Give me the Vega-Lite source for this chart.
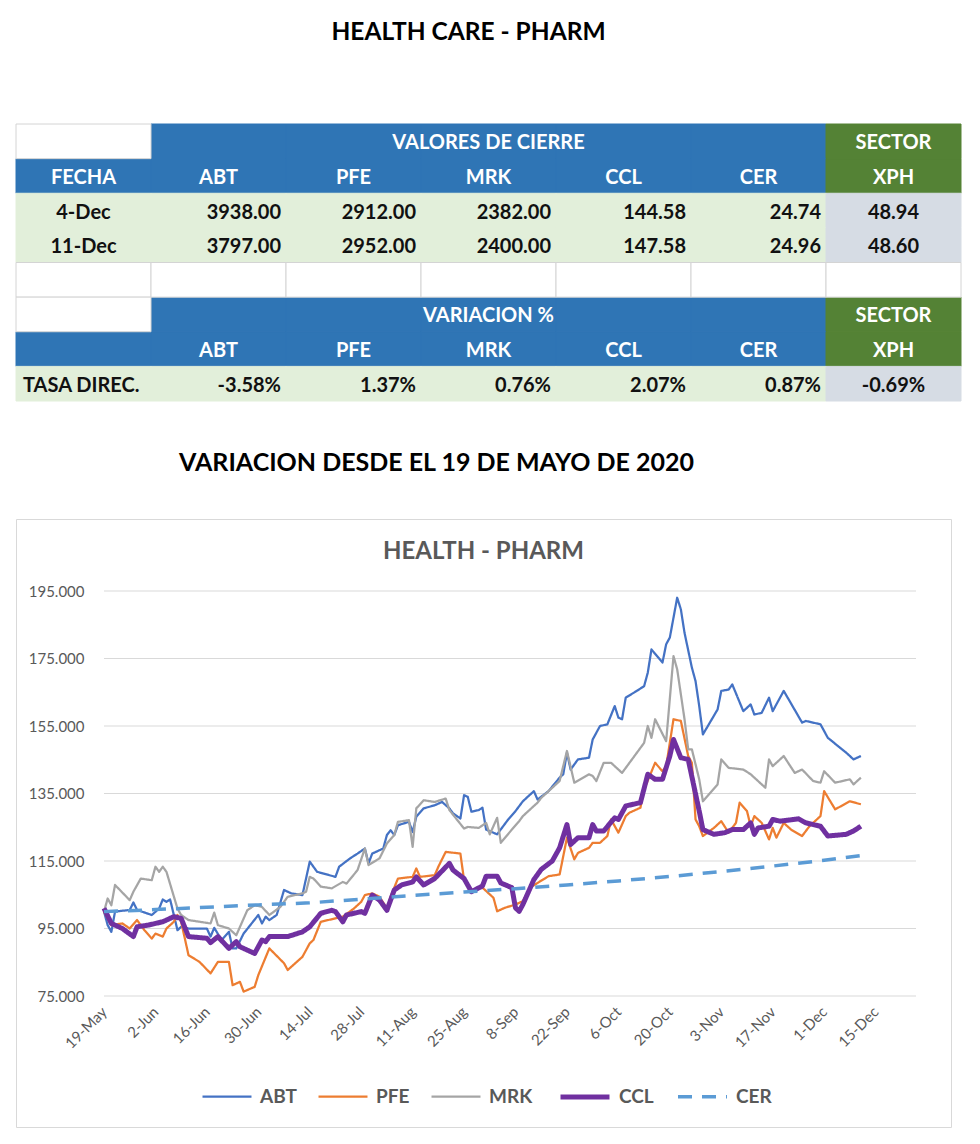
{
  "$schema": "https://vega.github.io/schema/vega-lite/v6.json",
  "background": "white",
  "padding": {"left": 15, "top": 20, "right": 5, "bottom": 5},
  "config": {"font": "Lato", "view": {"stroke": null}},
  "title": {"text": "HEALTH CARE - PHARM", "anchor": "middle", "fontSize": 24.5, "font": "Lato", "fontWeight": "bold", "color": "#000000", "offset": 78, "dx": -20},
  "spacing": 42,
  "datasets": {
    "celdas": [
      {"fila": "r0", "col": "FECHA", "tipo": "blanco"}, {"fila": "r0", "col": "ABT", "tipo": "azul"}, {"fila": "r0", "col": "PFE", "tipo": "azul"}, {"fila": "r0", "col": "MRK", "tipo": "azul"}, {"fila": "r0", "col": "CCL", "tipo": "azul"}, {"fila": "r0", "col": "CER", "tipo": "azul"}, {"fila": "r0", "col": "XPH", "tipo": "verde"},
      {"fila": "r1", "col": "FECHA", "tipo": "azul"}, {"fila": "r1", "col": "ABT", "tipo": "azul"}, {"fila": "r1", "col": "PFE", "tipo": "azul"}, {"fila": "r1", "col": "MRK", "tipo": "azul"}, {"fila": "r1", "col": "CCL", "tipo": "azul"}, {"fila": "r1", "col": "CER", "tipo": "azul"}, {"fila": "r1", "col": "XPH", "tipo": "verde"},
      {"fila": "r2", "col": "FECHA", "tipo": "datos"}, {"fila": "r2", "col": "ABT", "tipo": "datos"}, {"fila": "r2", "col": "PFE", "tipo": "datos"}, {"fila": "r2", "col": "MRK", "tipo": "datos"}, {"fila": "r2", "col": "CCL", "tipo": "datos"}, {"fila": "r2", "col": "CER", "tipo": "datos"}, {"fila": "r2", "col": "XPH", "tipo": "sector"},
      {"fila": "r3", "col": "FECHA", "tipo": "datos"}, {"fila": "r3", "col": "ABT", "tipo": "datos"}, {"fila": "r3", "col": "PFE", "tipo": "datos"}, {"fila": "r3", "col": "MRK", "tipo": "datos"}, {"fila": "r3", "col": "CCL", "tipo": "datos"}, {"fila": "r3", "col": "CER", "tipo": "datos"}, {"fila": "r3", "col": "XPH", "tipo": "sector"},
      {"fila": "r4", "col": "FECHA", "tipo": "blanco"}, {"fila": "r4", "col": "ABT", "tipo": "blanco"}, {"fila": "r4", "col": "PFE", "tipo": "blanco"}, {"fila": "r4", "col": "MRK", "tipo": "blanco"}, {"fila": "r4", "col": "CCL", "tipo": "blanco"}, {"fila": "r4", "col": "CER", "tipo": "blanco"}, {"fila": "r4", "col": "XPH", "tipo": "blanco"},
      {"fila": "r5", "col": "FECHA", "tipo": "blanco"}, {"fila": "r5", "col": "ABT", "tipo": "azul"}, {"fila": "r5", "col": "PFE", "tipo": "azul"}, {"fila": "r5", "col": "MRK", "tipo": "azul"}, {"fila": "r5", "col": "CCL", "tipo": "azul"}, {"fila": "r5", "col": "CER", "tipo": "azul"}, {"fila": "r5", "col": "XPH", "tipo": "verde"},
      {"fila": "r6", "col": "FECHA", "tipo": "azul"}, {"fila": "r6", "col": "ABT", "tipo": "azul"}, {"fila": "r6", "col": "PFE", "tipo": "azul"}, {"fila": "r6", "col": "MRK", "tipo": "azul"}, {"fila": "r6", "col": "CCL", "tipo": "azul"}, {"fila": "r6", "col": "CER", "tipo": "azul"}, {"fila": "r6", "col": "XPH", "tipo": "verde"},
      {"fila": "r7", "col": "FECHA", "tipo": "datos"}, {"fila": "r7", "col": "ABT", "tipo": "datos"}, {"fila": "r7", "col": "PFE", "tipo": "datos"}, {"fila": "r7", "col": "MRK", "tipo": "datos"}, {"fila": "r7", "col": "CCL", "tipo": "datos"}, {"fila": "r7", "col": "CER", "tipo": "datos"}, {"fila": "r7", "col": "XPH", "tipo": "sector"}
    ],
    "textos": [
      {"fila": "r0", "col": "MRK", "t": "VALORES DE CIERRE"}, {"fila": "r0", "col": "XPH", "t": "SECTOR"},
      {"fila": "r1", "col": "FECHA", "t": "FECHA"}, {"fila": "r1", "col": "ABT", "t": "ABT"}, {"fila": "r1", "col": "PFE", "t": "PFE"}, {"fila": "r1", "col": "MRK", "t": "MRK"}, {"fila": "r1", "col": "CCL", "t": "CCL"}, {"fila": "r1", "col": "CER", "t": "CER"}, {"fila": "r1", "col": "XPH", "t": "XPH"},
      {"fila": "r2", "col": "FECHA", "t": "4-Dec"}, {"fila": "r2", "col": "ABT", "t": "3938.00"}, {"fila": "r2", "col": "PFE", "t": "2912.00"}, {"fila": "r2", "col": "MRK", "t": "2382.00"}, {"fila": "r2", "col": "CCL", "t": "144.58"}, {"fila": "r2", "col": "CER", "t": "24.74"}, {"fila": "r2", "col": "XPH", "t": "48.94"},
      {"fila": "r3", "col": "FECHA", "t": "11-Dec"}, {"fila": "r3", "col": "ABT", "t": "3797.00"}, {"fila": "r3", "col": "PFE", "t": "2952.00"}, {"fila": "r3", "col": "MRK", "t": "2400.00"}, {"fila": "r3", "col": "CCL", "t": "147.58"}, {"fila": "r3", "col": "CER", "t": "24.96"}, {"fila": "r3", "col": "XPH", "t": "48.60"},
      {"fila": "r5", "col": "MRK", "t": "VARIACION %"}, {"fila": "r5", "col": "XPH", "t": "SECTOR"},
      {"fila": "r6", "col": "ABT", "t": "ABT"}, {"fila": "r6", "col": "PFE", "t": "PFE"}, {"fila": "r6", "col": "MRK", "t": "MRK"}, {"fila": "r6", "col": "CCL", "t": "CCL"}, {"fila": "r6", "col": "CER", "t": "CER"}, {"fila": "r6", "col": "XPH", "t": "XPH"},
      {"fila": "r7", "col": "FECHA", "t": "TASA DIREC."}, {"fila": "r7", "col": "ABT", "t": "-3.58%"}, {"fila": "r7", "col": "PFE", "t": "1.37%"}, {"fila": "r7", "col": "MRK", "t": "0.76%"}, {"fila": "r7", "col": "CCL", "t": "2.07%"}, {"fila": "r7", "col": "CER", "t": "0.87%"}, {"fila": "r7", "col": "XPH", "t": "-0.69%"}
    ],
    "grid": [{"g": 75}, {"g": 95}, {"g": 115}, {"g": 135}, {"g": 155}, {"g": 175}, {"g": 195}],
    "series": [
      {"d":"2020-05-19","s":"ABT","v":100},{"d":"2020-05-20","s":"ABT","v":96},{"d":"2020-05-21","s":"ABT","v":94},{"d":"2020-05-22","s":"ABT","v":100},{"d":"2020-05-26","s":"ABT","v":100.5},{"d":"2020-05-27","s":"ABT","v":102.7},{"d":"2020-05-28","s":"ABT","v":100.5},{"d":"2020-06-01","s":"ABT","v":99},{"d":"2020-06-03","s":"ABT","v":100.9},{"d":"2020-06-04","s":"ABT","v":103.6},{"d":"2020-06-05","s":"ABT","v":102.9},{"d":"2020-06-06","s":"ABT","v":103.6},{"d":"2020-06-08","s":"ABT","v":94.5},{"d":"2020-06-09","s":"ABT","v":95.5},{"d":"2020-06-11","s":"ABT","v":95},{"d":"2020-06-16","s":"ABT","v":95},{"d":"2020-06-17","s":"ABT","v":92.6},{"d":"2020-06-18","s":"ABT","v":95.2},{"d":"2020-06-20","s":"ABT","v":91.6},{"d":"2020-06-22","s":"ABT","v":94},{"d":"2020-06-23","s":"ABT","v":89.1},{"d":"2020-06-24","s":"ABT","v":89.1},{"d":"2020-06-26","s":"ABT","v":93.5},{"d":"2020-06-30","s":"ABT","v":99},{"d":"2020-07-01","s":"ABT","v":96.5},{"d":"2020-07-02","s":"ABT","v":98.5},{"d":"2020-07-03","s":"ABT","v":97.5},{"d":"2020-07-05","s":"ABT","v":99},{"d":"2020-07-07","s":"ABT","v":106.4},{"d":"2020-07-09","s":"ABT","v":105.4},{"d":"2020-07-12","s":"ABT","v":104.9},{"d":"2020-07-14","s":"ABT","v":114.8},{"d":"2020-07-16","s":"ABT","v":111.8},{"d":"2020-07-21","s":"ABT","v":110.3},{"d":"2020-07-22","s":"ABT","v":113.3},{"d":"2020-07-25","s":"ABT","v":115.8},{"d":"2020-07-27","s":"ABT","v":117.2},{"d":"2020-07-29","s":"ABT","v":118.7},{"d":"2020-07-30","s":"ABT","v":114.3},{"d":"2020-07-31","s":"ABT","v":117.2},{"d":"2020-08-03","s":"ABT","v":118.7},{"d":"2020-08-04","s":"ABT","v":122.7},{"d":"2020-08-05","s":"ABT","v":124.1},{"d":"2020-08-06","s":"ABT","v":122.7},{"d":"2020-08-07","s":"ABT","v":125.6},{"d":"2020-08-10","s":"ABT","v":126.6},{"d":"2020-08-11","s":"ABT","v":123.6},{"d":"2020-08-12","s":"ABT","v":128.1},{"d":"2020-08-14","s":"ABT","v":130.6},{"d":"2020-08-17","s":"ABT","v":131.5},{"d":"2020-08-19","s":"ABT","v":132.5},{"d":"2020-08-21","s":"ABT","v":130.6},{"d":"2020-08-22","s":"ABT","v":129.1},{"d":"2020-08-24","s":"ABT","v":127.6},{"d":"2020-08-25","s":"ABT","v":134.5},{"d":"2020-08-26","s":"ABT","v":134},{"d":"2020-08-27","s":"ABT","v":129.6},{"d":"2020-08-29","s":"ABT","v":130.1},{"d":"2020-08-30","s":"ABT","v":130.8},{"d":"2020-08-31","s":"ABT","v":124.3},{"d":"2020-09-03","s":"ABT","v":122.9},{"d":"2020-09-06","s":"ABT","v":127.3},{"d":"2020-09-08","s":"ABT","v":129.8},{"d":"2020-09-10","s":"ABT","v":132.7},{"d":"2020-09-13","s":"ABT","v":135.7},{"d":"2020-09-14","s":"ABT","v":133.2},{"d":"2020-09-17","s":"ABT","v":135.7},{"d":"2020-09-20","s":"ABT","v":139.7},{"d":"2020-09-21","s":"ABT","v":140.7},{"d":"2020-09-22","s":"ABT","v":147.1},{"d":"2020-09-23","s":"ABT","v":142.1},{"d":"2020-09-25","s":"ABT","v":145.1},{"d":"2020-09-28","s":"ABT","v":145.6},{"d":"2020-09-29","s":"ABT","v":151},{"d":"2020-10-01","s":"ABT","v":155},{"d":"2020-10-03","s":"ABT","v":155.5},{"d":"2020-10-05","s":"ABT","v":160.9},{"d":"2020-10-06","s":"ABT","v":157.5},{"d":"2020-10-07","s":"ABT","v":157},{"d":"2020-10-08","s":"ABT","v":163.4},{"d":"2020-10-11","s":"ABT","v":165.4},{"d":"2020-10-13","s":"ABT","v":166.8},{"d":"2020-10-14","s":"ABT","v":170.8},{"d":"2020-10-15","s":"ABT","v":177.7},{"d":"2020-10-18","s":"ABT","v":173.8},{"d":"2020-10-19","s":"ABT","v":179.2},{"d":"2020-10-20","s":"ABT","v":181.2},{"d":"2020-10-22","s":"ABT","v":193},{"d":"2020-10-23","s":"ABT","v":189.6},{"d":"2020-10-24","s":"ABT","v":182.6},{"d":"2020-10-26","s":"ABT","v":172.3},{"d":"2020-10-27","s":"ABT","v":168.3},{"d":"2020-10-28","s":"ABT","v":160.9},{"d":"2020-10-29","s":"ABT","v":152.5},{"d":"2020-11-02","s":"ABT","v":159.9},{"d":"2020-11-03","s":"ABT","v":165.4},{"d":"2020-11-05","s":"ABT","v":165.8},{"d":"2020-11-06","s":"ABT","v":167.3},{"d":"2020-11-09","s":"ABT","v":159.4},{"d":"2020-11-11","s":"ABT","v":161.4},{"d":"2020-11-12","s":"ABT","v":158.4},{"d":"2020-11-14","s":"ABT","v":158.9},{"d":"2020-11-16","s":"ABT","v":163.4},{"d":"2020-11-17","s":"ABT","v":159.4},{"d":"2020-11-20","s":"ABT","v":165.4},{"d":"2020-11-25","s":"ABT","v":156},{"d":"2020-11-26","s":"ABT","v":156.5},{"d":"2020-11-30","s":"ABT","v":155.5},{"d":"2020-12-02","s":"ABT","v":151.5},{"d":"2020-12-07","s":"ABT","v":147.1},{"d":"2020-12-09","s":"ABT","v":145.1},{"d":"2020-12-11","s":"ABT","v":146.1},
      {"d":"2020-05-19","s":"PFE","v":100},{"d":"2020-05-21","s":"PFE","v":96},{"d":"2020-05-24","s":"PFE","v":96.5},{"d":"2020-05-26","s":"PFE","v":95},{"d":"2020-05-28","s":"PFE","v":97.5},{"d":"2020-05-30","s":"PFE","v":94.5},{"d":"2020-06-01","s":"PFE","v":92},{"d":"2020-06-02","s":"PFE","v":93.5},{"d":"2020-06-04","s":"PFE","v":92.6},{"d":"2020-06-05","s":"PFE","v":95},{"d":"2020-06-07","s":"PFE","v":97},{"d":"2020-06-08","s":"PFE","v":99},{"d":"2020-06-09","s":"PFE","v":97},{"d":"2020-06-11","s":"PFE","v":87.1},{"d":"2020-06-14","s":"PFE","v":85.1},{"d":"2020-06-17","s":"PFE","v":81.7},{"d":"2020-06-19","s":"PFE","v":85.1},{"d":"2020-06-22","s":"PFE","v":85.1},{"d":"2020-06-23","s":"PFE","v":78.2},{"d":"2020-06-25","s":"PFE","v":79.2},{"d":"2020-06-26","s":"PFE","v":76.3},{"d":"2020-06-29","s":"PFE","v":77.7},{"d":"2020-06-30","s":"PFE","v":81.2},{"d":"2020-07-03","s":"PFE","v":89.1},{"d":"2020-07-07","s":"PFE","v":84.7},{"d":"2020-07-08","s":"PFE","v":82.7},{"d":"2020-07-12","s":"PFE","v":86.6},{"d":"2020-07-14","s":"PFE","v":90.6},{"d":"2020-07-15","s":"PFE","v":91.6},{"d":"2020-07-17","s":"PFE","v":97},{"d":"2020-07-21","s":"PFE","v":98},{"d":"2020-07-23","s":"PFE","v":98.5},{"d":"2020-07-26","s":"PFE","v":100.9},{"d":"2020-07-28","s":"PFE","v":102.9},{"d":"2020-07-29","s":"PFE","v":104.9},{"d":"2020-07-31","s":"PFE","v":105.4},{"d":"2020-08-02","s":"PFE","v":104.4},{"d":"2020-08-04","s":"PFE","v":100.9},{"d":"2020-08-05","s":"PFE","v":104.4},{"d":"2020-08-07","s":"PFE","v":109.8},{"d":"2020-08-11","s":"PFE","v":110.3},{"d":"2020-08-12","s":"PFE","v":112.8},{"d":"2020-08-13","s":"PFE","v":110.3},{"d":"2020-08-17","s":"PFE","v":110.8},{"d":"2020-08-18","s":"PFE","v":113.3},{"d":"2020-08-20","s":"PFE","v":117.7},{"d":"2020-08-24","s":"PFE","v":117.2},{"d":"2020-08-25","s":"PFE","v":109.3},{"d":"2020-08-27","s":"PFE","v":106.4},{"d":"2020-08-30","s":"PFE","v":107.1},{"d":"2020-08-31","s":"PFE","v":106.1},{"d":"2020-09-02","s":"PFE","v":104.1},{"d":"2020-09-03","s":"PFE","v":100.1},{"d":"2020-09-05","s":"PFE","v":101.1},{"d":"2020-09-08","s":"PFE","v":102.1},{"d":"2020-09-10","s":"PFE","v":103.1},{"d":"2020-09-12","s":"PFE","v":107.1},{"d":"2020-09-14","s":"PFE","v":108.5},{"d":"2020-09-17","s":"PFE","v":110.5},{"d":"2020-09-20","s":"PFE","v":111},{"d":"2020-09-22","s":"PFE","v":121.9},{"d":"2020-09-24","s":"PFE","v":115.5},{"d":"2020-09-25","s":"PFE","v":117.4},{"d":"2020-09-28","s":"PFE","v":118.9},{"d":"2020-09-29","s":"PFE","v":120.4},{"d":"2020-10-01","s":"PFE","v":120.4},{"d":"2020-10-03","s":"PFE","v":122.4},{"d":"2020-10-04","s":"PFE","v":127.3},{"d":"2020-10-06","s":"PFE","v":123.4},{"d":"2020-10-08","s":"PFE","v":128.3},{"d":"2020-10-09","s":"PFE","v":129.3},{"d":"2020-10-12","s":"PFE","v":130.8},{"d":"2020-10-13","s":"PFE","v":136.2},{"d":"2020-10-16","s":"PFE","v":144.1},{"d":"2020-10-18","s":"PFE","v":141.6},{"d":"2020-10-19","s":"PFE","v":143.1},{"d":"2020-10-21","s":"PFE","v":157},{"d":"2020-10-23","s":"PFE","v":156.5},{"d":"2020-10-25","s":"PFE","v":146.1},{"d":"2020-10-26","s":"PFE","v":144.1},{"d":"2020-10-27","s":"PFE","v":127.3},{"d":"2020-10-28","s":"PFE","v":125.3},{"d":"2020-10-29","s":"PFE","v":122.4},{"d":"2020-11-01","s":"PFE","v":124.8},{"d":"2020-11-03","s":"PFE","v":126.8},{"d":"2020-11-05","s":"PFE","v":123.4},{"d":"2020-11-07","s":"PFE","v":126.3},{"d":"2020-11-08","s":"PFE","v":132.3},{"d":"2020-11-10","s":"PFE","v":129.8},{"d":"2020-11-11","s":"PFE","v":125.3},{"d":"2020-11-12","s":"PFE","v":128.3},{"d":"2020-11-14","s":"PFE","v":126.3},{"d":"2020-11-16","s":"PFE","v":121.4},{"d":"2020-11-17","s":"PFE","v":124.8},{"d":"2020-11-18","s":"PFE","v":121.9},{"d":"2020-11-20","s":"PFE","v":126.3},{"d":"2020-11-22","s":"PFE","v":124.3},{"d":"2020-11-25","s":"PFE","v":122.4},{"d":"2020-11-27","s":"PFE","v":125.3},{"d":"2020-11-30","s":"PFE","v":128.3},{"d":"2020-12-01","s":"PFE","v":135.7},{"d":"2020-12-04","s":"PFE","v":130.3},{"d":"2020-12-08","s":"PFE","v":132.7},{"d":"2020-12-11","s":"PFE","v":131.8},
      {"d":"2020-05-19","s":"MRK","v":100},{"d":"2020-05-20","s":"MRK","v":103.9},{"d":"2020-05-21","s":"MRK","v":101.9},{"d":"2020-05-22","s":"MRK","v":107.9},{"d":"2020-05-26","s":"MRK","v":103.4},{"d":"2020-05-27","s":"MRK","v":105.9},{"d":"2020-05-29","s":"MRK","v":109.8},{"d":"2020-06-01","s":"MRK","v":109.3},{"d":"2020-06-02","s":"MRK","v":113.3},{"d":"2020-06-03","s":"MRK","v":111.8},{"d":"2020-06-04","s":"MRK","v":113.3},{"d":"2020-06-05","s":"MRK","v":111.8},{"d":"2020-06-08","s":"MRK","v":100.9},{"d":"2020-06-09","s":"MRK","v":99},{"d":"2020-06-11","s":"MRK","v":97.5},{"d":"2020-06-14","s":"MRK","v":97},{"d":"2020-06-17","s":"MRK","v":96.5},{"d":"2020-06-18","s":"MRK","v":99.7},{"d":"2020-06-19","s":"MRK","v":96},{"d":"2020-06-22","s":"MRK","v":95},{"d":"2020-06-24","s":"MRK","v":93},{"d":"2020-06-27","s":"MRK","v":100.4},{"d":"2020-06-29","s":"MRK","v":101.9},{"d":"2020-07-01","s":"MRK","v":101.4},{"d":"2020-07-03","s":"MRK","v":99},{"d":"2020-07-06","s":"MRK","v":101.4},{"d":"2020-07-08","s":"MRK","v":104.4},{"d":"2020-07-12","s":"MRK","v":105.4},{"d":"2020-07-13","s":"MRK","v":105.9},{"d":"2020-07-14","s":"MRK","v":110.3},{"d":"2020-07-15","s":"MRK","v":109.8},{"d":"2020-07-17","s":"MRK","v":107.4},{"d":"2020-07-20","s":"MRK","v":106.9},{"d":"2020-07-23","s":"MRK","v":108.8},{"d":"2020-07-24","s":"MRK","v":108.3},{"d":"2020-07-27","s":"MRK","v":112.3},{"d":"2020-07-29","s":"MRK","v":118.7},{"d":"2020-07-30","s":"MRK","v":113.8},{"d":"2020-08-02","s":"MRK","v":115.8},{"d":"2020-08-04","s":"MRK","v":120.2},{"d":"2020-08-06","s":"MRK","v":122.7},{"d":"2020-08-07","s":"MRK","v":126.6},{"d":"2020-08-10","s":"MRK","v":127.1},{"d":"2020-08-11","s":"MRK","v":119.2},{"d":"2020-08-12","s":"MRK","v":130.6},{"d":"2020-08-14","s":"MRK","v":133},{"d":"2020-08-17","s":"MRK","v":132.5},{"d":"2020-08-20","s":"MRK","v":133.5},{"d":"2020-08-21","s":"MRK","v":130.1},{"d":"2020-08-25","s":"MRK","v":124.6},{"d":"2020-08-26","s":"MRK","v":125.1},{"d":"2020-08-29","s":"MRK","v":124.8},{"d":"2020-08-31","s":"MRK","v":126.3},{"d":"2020-09-01","s":"MRK","v":122.9},{"d":"2020-09-03","s":"MRK","v":127.8},{"d":"2020-09-04","s":"MRK","v":120.4},{"d":"2020-09-07","s":"MRK","v":124.3},{"d":"2020-09-09","s":"MRK","v":126.8},{"d":"2020-09-10","s":"MRK","v":128.3},{"d":"2020-09-14","s":"MRK","v":132.3},{"d":"2020-09-15","s":"MRK","v":133.7},{"d":"2020-09-20","s":"MRK","v":138.7},{"d":"2020-09-22","s":"MRK","v":147.6},{"d":"2020-09-24","s":"MRK","v":138.2},{"d":"2020-09-28","s":"MRK","v":140.7},{"d":"2020-09-29","s":"MRK","v":140.2},{"d":"2020-09-30","s":"MRK","v":138.7},{"d":"2020-10-02","s":"MRK","v":144.1},{"d":"2020-10-04","s":"MRK","v":144.1},{"d":"2020-10-07","s":"MRK","v":141.1},{"d":"2020-10-13","s":"MRK","v":150},{"d":"2020-10-14","s":"MRK","v":155},{"d":"2020-10-15","s":"MRK","v":151.5},{"d":"2020-10-16","s":"MRK","v":157},{"d":"2020-10-19","s":"MRK","v":150.5},{"d":"2020-10-21","s":"MRK","v":175.7},{"d":"2020-10-22","s":"MRK","v":171.8},{"d":"2020-10-24","s":"MRK","v":157},{"d":"2020-10-25","s":"MRK","v":148.1},{"d":"2020-10-26","s":"MRK","v":148.1},{"d":"2020-10-28","s":"MRK","v":139.2},{"d":"2020-10-29","s":"MRK","v":132.7},{"d":"2020-11-02","s":"MRK","v":137.7},{"d":"2020-11-03","s":"MRK","v":145.1},{"d":"2020-11-05","s":"MRK","v":142.6},{"d":"2020-11-09","s":"MRK","v":142.1},{"d":"2020-11-11","s":"MRK","v":140.7},{"d":"2020-11-15","s":"MRK","v":136.7},{"d":"2020-11-16","s":"MRK","v":145.1},{"d":"2020-11-17","s":"MRK","v":143.1},{"d":"2020-11-20","s":"MRK","v":146.1},{"d":"2020-11-23","s":"MRK","v":141.1},{"d":"2020-11-25","s":"MRK","v":142.1},{"d":"2020-11-28","s":"MRK","v":138.7},{"d":"2020-11-30","s":"MRK","v":138.2},{"d":"2020-12-01","s":"MRK","v":141.6},{"d":"2020-12-04","s":"MRK","v":138.2},{"d":"2020-12-08","s":"MRK","v":139.2},{"d":"2020-12-09","s":"MRK","v":137.7},{"d":"2020-12-11","s":"MRK","v":139.7},
      {"d":"2020-05-19","s":"CCL","v":101},{"d":"2020-05-21","s":"CCL","v":96.5},{"d":"2020-05-24","s":"CCL","v":95},{"d":"2020-05-27","s":"CCL","v":92.6},{"d":"2020-05-28","s":"CCL","v":95.5},{"d":"2020-05-31","s":"CCL","v":96},{"d":"2020-06-04","s":"CCL","v":97},{"d":"2020-06-07","s":"CCL","v":98.5},{"d":"2020-06-09","s":"CCL","v":98},{"d":"2020-06-11","s":"CCL","v":92.6},{"d":"2020-06-16","s":"CCL","v":92.1},{"d":"2020-06-17","s":"CCL","v":90.8},{"d":"2020-06-19","s":"CCL","v":92.6},{"d":"2020-06-22","s":"CCL","v":89.1},{"d":"2020-06-24","s":"CCL","v":91.1},{"d":"2020-06-25","s":"CCL","v":89.6},{"d":"2020-06-29","s":"CCL","v":87.6},{"d":"2020-07-01","s":"CCL","v":91.6},{"d":"2020-07-02","s":"CCL","v":91.1},{"d":"2020-07-03","s":"CCL","v":92.6},{"d":"2020-07-08","s":"CCL","v":92.6},{"d":"2020-07-12","s":"CCL","v":94},{"d":"2020-07-14","s":"CCL","v":95.5},{"d":"2020-07-17","s":"CCL","v":99.5},{"d":"2020-07-20","s":"CCL","v":100.4},{"d":"2020-07-21","s":"CCL","v":100},{"d":"2020-07-23","s":"CCL","v":97},{"d":"2020-07-24","s":"CCL","v":99},{"d":"2020-07-28","s":"CCL","v":100},{"d":"2020-07-29","s":"CCL","v":99.5},{"d":"2020-07-31","s":"CCL","v":104.9},{"d":"2020-08-02","s":"CCL","v":103.4},{"d":"2020-08-04","s":"CCL","v":100.4},{"d":"2020-08-06","s":"CCL","v":106.4},{"d":"2020-08-08","s":"CCL","v":107.9},{"d":"2020-08-11","s":"CCL","v":108.8},{"d":"2020-08-12","s":"CCL","v":110.3},{"d":"2020-08-14","s":"CCL","v":107.9},{"d":"2020-08-17","s":"CCL","v":109.8},{"d":"2020-08-21","s":"CCL","v":114.3},{"d":"2020-08-22","s":"CCL","v":112.3},{"d":"2020-08-25","s":"CCL","v":109.8},{"d":"2020-08-27","s":"CCL","v":105.9},{"d":"2020-08-30","s":"CCL","v":107.6},{"d":"2020-08-31","s":"CCL","v":110.5},{"d":"2020-09-03","s":"CCL","v":110.5},{"d":"2020-09-04","s":"CCL","v":108.5},{"d":"2020-09-07","s":"CCL","v":107.1},{"d":"2020-09-08","s":"CCL","v":101.1},{"d":"2020-09-09","s":"CCL","v":100.1},{"d":"2020-09-10","s":"CCL","v":102.1},{"d":"2020-09-13","s":"CCL","v":109.5},{"d":"2020-09-15","s":"CCL","v":112.5},{"d":"2020-09-18","s":"CCL","v":115},{"d":"2020-09-20","s":"CCL","v":118.9},{"d":"2020-09-22","s":"CCL","v":125.8},{"d":"2020-09-23","s":"CCL","v":119.9},{"d":"2020-09-25","s":"CCL","v":121.9},{"d":"2020-09-28","s":"CCL","v":121.9},{"d":"2020-09-29","s":"CCL","v":125.8},{"d":"2020-09-30","s":"CCL","v":123.9},{"d":"2020-10-02","s":"CCL","v":123.9},{"d":"2020-10-05","s":"CCL","v":127.8},{"d":"2020-10-06","s":"CCL","v":127.3},{"d":"2020-10-08","s":"CCL","v":131.3},{"d":"2020-10-12","s":"CCL","v":132.3},{"d":"2020-10-14","s":"CCL","v":140.7},{"d":"2020-10-16","s":"CCL","v":139.2},{"d":"2020-10-18","s":"CCL","v":139.2},{"d":"2020-10-20","s":"CCL","v":146.1},{"d":"2020-10-21","s":"CCL","v":151},{"d":"2020-10-23","s":"CCL","v":145.6},{"d":"2020-10-25","s":"CCL","v":145.1},{"d":"2020-10-28","s":"CCL","v":129.8},{"d":"2020-10-29","s":"CCL","v":124.3},{"d":"2020-11-01","s":"CCL","v":122.9},{"d":"2020-11-04","s":"CCL","v":123.4},{"d":"2020-11-06","s":"CCL","v":124.3},{"d":"2020-11-09","s":"CCL","v":124.3},{"d":"2020-11-11","s":"CCL","v":126.3},{"d":"2020-11-12","s":"CCL","v":122.9},{"d":"2020-11-13","s":"CCL","v":124.8},{"d":"2020-11-16","s":"CCL","v":125.3},{"d":"2020-11-17","s":"CCL","v":127.3},{"d":"2020-11-19","s":"CCL","v":126.8},{"d":"2020-11-24","s":"CCL","v":127.5},{"d":"2020-11-26","s":"CCL","v":126.3},{"d":"2020-11-30","s":"CCL","v":125.3},{"d":"2020-12-02","s":"CCL","v":122.4},{"d":"2020-12-07","s":"CCL","v":122.9},{"d":"2020-12-09","s":"CCL","v":123.9},{"d":"2020-12-11","s":"CCL","v":125.3},
      {"d":"2020-05-19","s":"CER","v":100},{"d":"2020-06-02","s":"CER","v":100.6},{"d":"2020-06-16","s":"CER","v":101.3},{"d":"2020-06-30","s":"CER","v":102},{"d":"2020-07-14","s":"CER","v":102.6},{"d":"2020-07-28","s":"CER","v":103.7},{"d":"2020-08-11","s":"CER","v":104.8},{"d":"2020-08-25","s":"CER","v":105.8},{"d":"2020-09-08","s":"CER","v":106.8},{"d":"2020-09-22","s":"CER","v":107.9},{"d":"2020-10-06","s":"CER","v":109.1},{"d":"2020-10-20","s":"CER","v":110.4},{"d":"2020-11-03","s":"CER","v":111.9},{"d":"2020-11-17","s":"CER","v":113.5},{"d":"2020-12-01","s":"CER","v":115.2},{"d":"2020-12-11","s":"CER","v":116.6}
    ]
  },
  "vconcat": [
    {
      "width": 945,
      "height": 277,
      "title": {"text": "VARIACION DESDE EL 19 DE MAYO DE 2020", "orient": "bottom", "anchor": "middle", "offset": 49, "dx": -52, "fontSize": 25, "font": "Lato", "fontWeight": "bold", "color": "#000000"},
      "data": {"name": "celdas"},
      "layer": [
        {
          "transform": [{"filter": "datum.tipo != 'blanco'"}],
          "mark": {"type": "rect", "strokeWidth": 1},
          "encoding": {
            "x": {"field": "col", "type": "nominal", "scale": {"type": "band", "domain": ["FECHA","ABT","PFE","MRK","CCL","CER","XPH"], "paddingInner": 0, "paddingOuter": 0}, "axis": null},
            "y": {"field": "fila", "type": "nominal", "scale": {"type": "band", "domain": ["r0","r1","r2","r3","r4","r5","r6","r7"], "paddingInner": 0, "paddingOuter": 0}, "axis": null},
            "fill": {"field": "tipo", "type": "nominal", "scale": {"domain": ["azul","verde","datos","sector"], "range": ["#2F75B5","#548235","#E2EFDA","#D6DCE4"]}, "legend": null},
            "stroke": {"field": "tipo", "type": "nominal", "scale": {"domain": ["azul","verde","datos","sector"], "range": ["#2F75B5","#548235","#E2EFDA","#D6DCE4"]}, "legend": null}
          }
        },
        {
          "transform": [{"filter": "datum.tipo == 'blanco'"}],
          "mark": {"type": "rect", "fill": "#FFFFFF", "stroke": "#D4D4D4", "strokeWidth": 1},
          "encoding": {
            "x": {"field": "col", "type": "nominal", "axis": null},
            "y": {"field": "fila", "type": "nominal", "axis": null}
          }
        },
        {
          "data": {"name": "textos"},
          "transform": [{"filter": "!((indexof(['r2','r3','r7'], datum.fila) >= 0 && datum.col != 'FECHA' && datum.col != 'XPH') || (datum.fila == 'r7' && datum.col == 'FECHA'))"}],
          "mark": {"type": "text", "font": "Lato", "fontWeight": "bold", "fontSize": 20, "align": "center", "baseline": "middle", "dy": 2},
          "encoding": {
            "x": {"field": "col", "type": "nominal", "axis": null},
            "y": {"field": "fila", "type": "nominal", "axis": null},
            "text": {"field": "t"},
            "color": {"condition": {"test": "indexof(['r0','r1','r5','r6'], datum.fila) >= 0", "value": "#FFFFFF"}, "value": "#111111"}
          }
        },
        {
          "data": {"name": "textos"},
          "transform": [{"filter": "indexof(['r2','r3','r7'], datum.fila) >= 0 && datum.col != 'FECHA' && datum.col != 'XPH'"}],
          "mark": {"type": "text", "font": "Lato", "fontWeight": "bold", "fontSize": 20, "align": "right", "baseline": "middle", "dx": -5, "dy": 2, "color": "#111111"},
          "encoding": {
            "x": {"field": "col", "type": "nominal", "bandPosition": 1, "axis": null},
            "y": {"field": "fila", "type": "nominal", "axis": null},
            "text": {"field": "t"}
          }
        },
        {
          "data": {"name": "textos"},
          "transform": [{"filter": "datum.fila == 'r7' && datum.col == 'FECHA'"}],
          "mark": {"type": "text", "font": "Lato", "fontWeight": "bold", "fontSize": 20, "align": "left", "baseline": "middle", "dx": 7, "dy": 2, "color": "#111111"},
          "encoding": {
            "x": {"field": "col", "type": "nominal", "bandPosition": 0, "axis": null},
            "y": {"field": "fila", "type": "nominal", "axis": null},
            "text": {"field": "t"}
          }
        }
      ]
    },
    {
      "width": 935,
      "height": 608,
      "view": {"stroke": "#D9D9D9", "strokeWidth": 1},
      "title": {"text": "HEALTH - PHARM", "anchor": "middle", "offset": -45, "fontSize": 24, "font": "Lato", "fontWeight": "bold", "color": "#595959"},
      "layer": [
        {
          "data": {"name": "grid"},
          "mark": {"type": "rule", "color": "#D9D9D9", "strokeWidth": 1},
          "encoding": {
            "x": {
              "datum": {"year": 2020, "month": 5, "date": 19, "utc": true}, "type": "temporal",
              "scale": {"type": "utc", "domain": [{"year": 2020, "month": 5, "date": 19, "utc": true}, {"year": 2020, "month": 12, "date": 26, "utc": true}], "range": [88, 900], "nice": false},
              "axis": {
                "title": null, "orient": "bottom", "offset": -131, "domain": false, "ticks": false, "grid": false,
                "values": [
                  {"year": 2020, "month": 5, "date": 19, "utc": true}, {"year": 2020, "month": 6, "date": 2, "utc": true}, {"year": 2020, "month": 6, "date": 16, "utc": true}, {"year": 2020, "month": 6, "date": 30, "utc": true},
                  {"year": 2020, "month": 7, "date": 14, "utc": true}, {"year": 2020, "month": 7, "date": 28, "utc": true}, {"year": 2020, "month": 8, "date": 11, "utc": true}, {"year": 2020, "month": 8, "date": 25, "utc": true},
                  {"year": 2020, "month": 9, "date": 8, "utc": true}, {"year": 2020, "month": 9, "date": 22, "utc": true}, {"year": 2020, "month": 10, "date": 6, "utc": true}, {"year": 2020, "month": 10, "date": 20, "utc": true},
                  {"year": 2020, "month": 11, "date": 3, "utc": true}, {"year": 2020, "month": 11, "date": 17, "utc": true}, {"year": 2020, "month": 12, "date": 1, "utc": true}, {"year": 2020, "month": 12, "date": 15, "utc": true}
                ],
                "labelExpr": "utcFormat(datum.value, '%-d-%b')",
                "labelAngle": -45, "labelAlign": "right", "labelBaseline": "middle", "labelPadding": 13,
                "labelFont": "Lato", "labelFontSize": 15, "labelColor": "#595959", "labelOverlap": false, "labelFlush": false, "labelBound": false
              }
            },
            "x2": {"datum": {"year": 2020, "month": 12, "date": 26, "utc": true}},
            "y": {
              "field": "g", "type": "quantitative",
              "scale": {"domain": [75, 195], "range": [477, 72], "nice": false, "zero": false},
              "axis": {
                "title": null, "orient": "left", "offset": -72, "domain": false, "ticks": false, "grid": false,
                "values": [75, 95, 115, 135, 155, 175, 195], "format": ".3f",
                "labelPadding": 4, "labelFont": "Lato", "labelFontSize": 15, "labelColor": "#595959", "labelFlush": false, "labelOverlap": false
              }
            }
          }
        },
        {
          "data": {"name": "series"},
          "mark": {"type": "line", "strokeJoin": "round"},
          "encoding": {
            "x": {
              "field": "d", "type": "temporal",
              "scale": {"type": "utc", "domain": [{"year": 2020, "month": 5, "date": 19, "utc": true}, {"year": 2020, "month": 12, "date": 26, "utc": true}], "range": [88, 900], "nice": false},
              "axis": {
                "title": null, "orient": "bottom", "offset": -131, "domain": false, "ticks": false, "grid": false,
                "values": [
                  {"year": 2020, "month": 5, "date": 19, "utc": true}, {"year": 2020, "month": 6, "date": 2, "utc": true}, {"year": 2020, "month": 6, "date": 16, "utc": true}, {"year": 2020, "month": 6, "date": 30, "utc": true},
                  {"year": 2020, "month": 7, "date": 14, "utc": true}, {"year": 2020, "month": 7, "date": 28, "utc": true}, {"year": 2020, "month": 8, "date": 11, "utc": true}, {"year": 2020, "month": 8, "date": 25, "utc": true},
                  {"year": 2020, "month": 9, "date": 8, "utc": true}, {"year": 2020, "month": 9, "date": 22, "utc": true}, {"year": 2020, "month": 10, "date": 6, "utc": true}, {"year": 2020, "month": 10, "date": 20, "utc": true},
                  {"year": 2020, "month": 11, "date": 3, "utc": true}, {"year": 2020, "month": 11, "date": 17, "utc": true}, {"year": 2020, "month": 12, "date": 1, "utc": true}, {"year": 2020, "month": 12, "date": 15, "utc": true}
                ],
                "labelExpr": "utcFormat(datum.value, '%-d-%b')",
                "labelAngle": -45, "labelAlign": "right", "labelBaseline": "middle", "labelPadding": 13,
                "labelFont": "Lato", "labelFontSize": 15, "labelColor": "#595959", "labelOverlap": false, "labelFlush": false, "labelBound": false
              }
            },
            "y": {
              "field": "v", "type": "quantitative",
              "scale": {"domain": [75, 195], "range": [477, 72], "nice": false, "zero": false},
              "axis": {
                "title": null, "orient": "left", "offset": -72, "domain": false, "ticks": false, "grid": false,
                "values": [75, 95, 115, 135, 155, 175, 195], "format": ".3f",
                "labelPadding": 4, "labelFont": "Lato", "labelFontSize": 15, "labelColor": "#595959", "labelFlush": false, "labelOverlap": false
              }
            },
            "color": {
              "field": "s", "type": "nominal",
              "scale": {"domain": ["ABT","PFE","MRK","CCL","CER"], "range": ["#4472C4","#ED7D31","#A5A5A5","#7030A0","#5B9BD5"]},
              "legend": {"orient": "none", "legendX": 185, "legendY": 946, "direction": "horizontal", "title": null, "symbolType": "stroke", "symbolSize": 2400, "labelFont": "Lato", "labelFontSize": 19, "labelFontWeight": "bold", "labelColor": "#595959", "labelOffset": 7, "columnPadding": 17}
            },
            "strokeDash": {
              "field": "s", "type": "nominal",
              "scale": {"domain": ["ABT","PFE","MRK","CCL","CER"], "range": [[1,0],[1,0],[1,0],[1,0],[14,10]]},
              "legend": {"orient": "none", "legendX": 185, "legendY": 946, "direction": "horizontal", "title": null, "symbolType": "stroke", "symbolSize": 2400, "labelFont": "Lato", "labelFontSize": 19, "labelFontWeight": "bold", "labelColor": "#595959", "labelOffset": 7, "columnPadding": 17}
            },
            "strokeWidth": {
              "field": "s", "type": "nominal",
              "scale": {"type": "ordinal", "domain": ["ABT","PFE","MRK","CCL","CER"], "range": [2.25, 2.25, 2.25, 5, 3.5]},
              "legend": {"orient": "none", "legendX": 185, "legendY": 946, "direction": "horizontal", "title": null, "symbolType": "stroke", "symbolSize": 2400, "labelFont": "Lato", "labelFontSize": 19, "labelFontWeight": "bold", "labelColor": "#595959", "labelOffset": 7, "columnPadding": 17}
            }
          }
        }
      ]
    }
  ]
}
